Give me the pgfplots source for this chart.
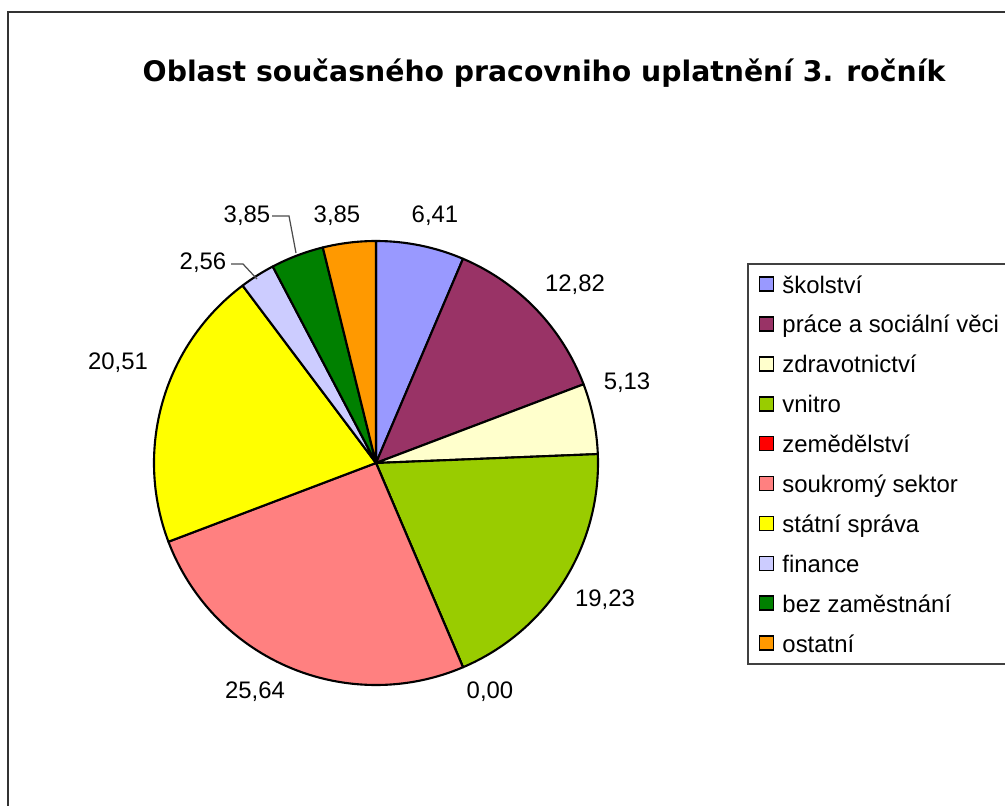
\documentclass[border=0pt]{standalone}
\usepackage{pgfplots}
\usepackage{pgfplotstable}
\pgfplotsset{compat=1.18}
\usepackage{fontspec}
\setmainfont{Liberation Sans}
\newfontfamily\titlefont{DejaVu Sans}

\definecolor{c1}{RGB}{153,153,255}
\definecolor{c2}{RGB}{153,51,102}
\definecolor{c3}{RGB}{255,255,204}
\definecolor{c4}{RGB}{153,204,0}
\definecolor{c5}{RGB}{255,0,0}
\definecolor{c6}{RGB}{255,128,128}
\definecolor{c7}{RGB}{255,255,0}
\definecolor{c8}{RGB}{204,204,255}
\definecolor{c9}{RGB}{0,128,0}
\definecolor{c10}{RGB}{255,153,0}

% value in percent, slice colour, label centre (pixels from top left)
\pgfplotstableread[col sep=comma]{
name,value,color,lx,ly
školství,6.41,c1,435,216
práce a sociální věci,12.82,c2,575,285
zdravotnictví,5.13,c3,627,383
vnitro,19.23,c4,605,600
zemědělství,0.00,c5,490,692
soukromý sektor,25.64,c6,255,692
státní správa,20.51,c7,118,363
finance,2.56,c8,203,263
bez zaměstnání,3.85,c9,247,216
ostatní,3.85,c10,337,216
}\piedata

\newcommand\lab{\fontsize{6.8}{8}\selectfont}

\begin{document}
\begin{tikzpicture}
\useasboundingbox (0,0) rectangle (10.05cm,8.05cm);
\clip (0,0) rectangle (10.05cm,8.05cm);
\begin{axis}[
    hide axis,
    scale only axis,
    width=10.05cm, height=8.05cm,
    xmin=0, xmax=1005, ymin=0, ymax=805,
    clip=false,
    legend image code/.code={\draw[#1,draw=black,line width=0.5pt] (0cm,-0.07cm) rectangle (0.14cm,0.07cm);},
    legend cell align=left,
    legend style={draw=none, fill=none, at={(axis cs:758,538)}, anchor=north west,
        font=\lab, inner sep=0pt, row sep=0.076cm,
        nodes={inner sep=0pt, text height=0.72em, text depth=0.2em},
        /tikz/every odd column/.append style={column sep=0.08cm}},
]
\pgfmathsetmacro\cum{0}
\pgfplotsforeachungrouped \i in {0,...,9}{%
  \pgfplotstablegetelem{\i}{value}\of\piedata \let\v\pgfplotsretval
  \pgfplotstablegetelem{\i}{color}\of\piedata \let\c\pgfplotsretval
  \pgfplotstablegetelem{\i}{name}\of\piedata \let\n\pgfplotsretval
  \pgfplotstablegetelem{\i}{lx}\of\piedata \let\lx\pgfplotsretval
  \pgfplotstablegetelem{\i}{ly}\of\piedata \pgfmathsetmacro\ly{805-\pgfplotsretval}
  \pgfmathsetmacro\a{90-3.6*\cum}
  \pgfmathsetmacro\b{90-3.6*(\cum+\v)}
  \edef\temp{%
    \noexpand\filldraw[fill=\c, draw=black, line width=0.6pt, line join=round]
      (axis cs:376,342) -- ++(\a:2.22cm) arc[start angle=\a, end angle=\b, radius=2.22cm] -- cycle;
    \noexpand\node[font=\noexpand\lab] at (axis cs:\lx,\ly)
      {\noexpand\pgfmathprintnumber[use comma,fixed,fixed zerofill,precision=2,assume math mode=true]{\v}};
    \noexpand\addlegendimage{fill=\c}
    \noexpand\addlegendentry{\n}}%
  \temp
  \pgfmathsetmacro\cum{\cum+\v}
}
% leader lines of the two small slices
\draw[black!70, line width=0.35pt] (axis cs:272,589) -- (axis cs:289,589) -- (axis cs:296,552);
\draw[black!70, line width=0.35pt] (axis cs:231,541) -- (axis cs:243,541) -- (axis cs:257,526);
% legend frame, chart frame, title
\draw[black!75, line width=0.35pt] (axis cs:1030,541) -- (axis cs:748,541) -- (axis cs:748,141) -- (axis cs:1030,141);
\draw[black!80, line width=0.45pt] (axis cs:8,-20) -- (axis cs:8,793) -- (axis cs:1030,793);
\node[font=\titlefont\bfseries\fontsize{8.05}{9}\selectfont] at (axis cs:544,732)
  {Oblast současného pracovniho uplatnění 3. ročník};
\end{axis}
\end{tikzpicture}
\end{document}
